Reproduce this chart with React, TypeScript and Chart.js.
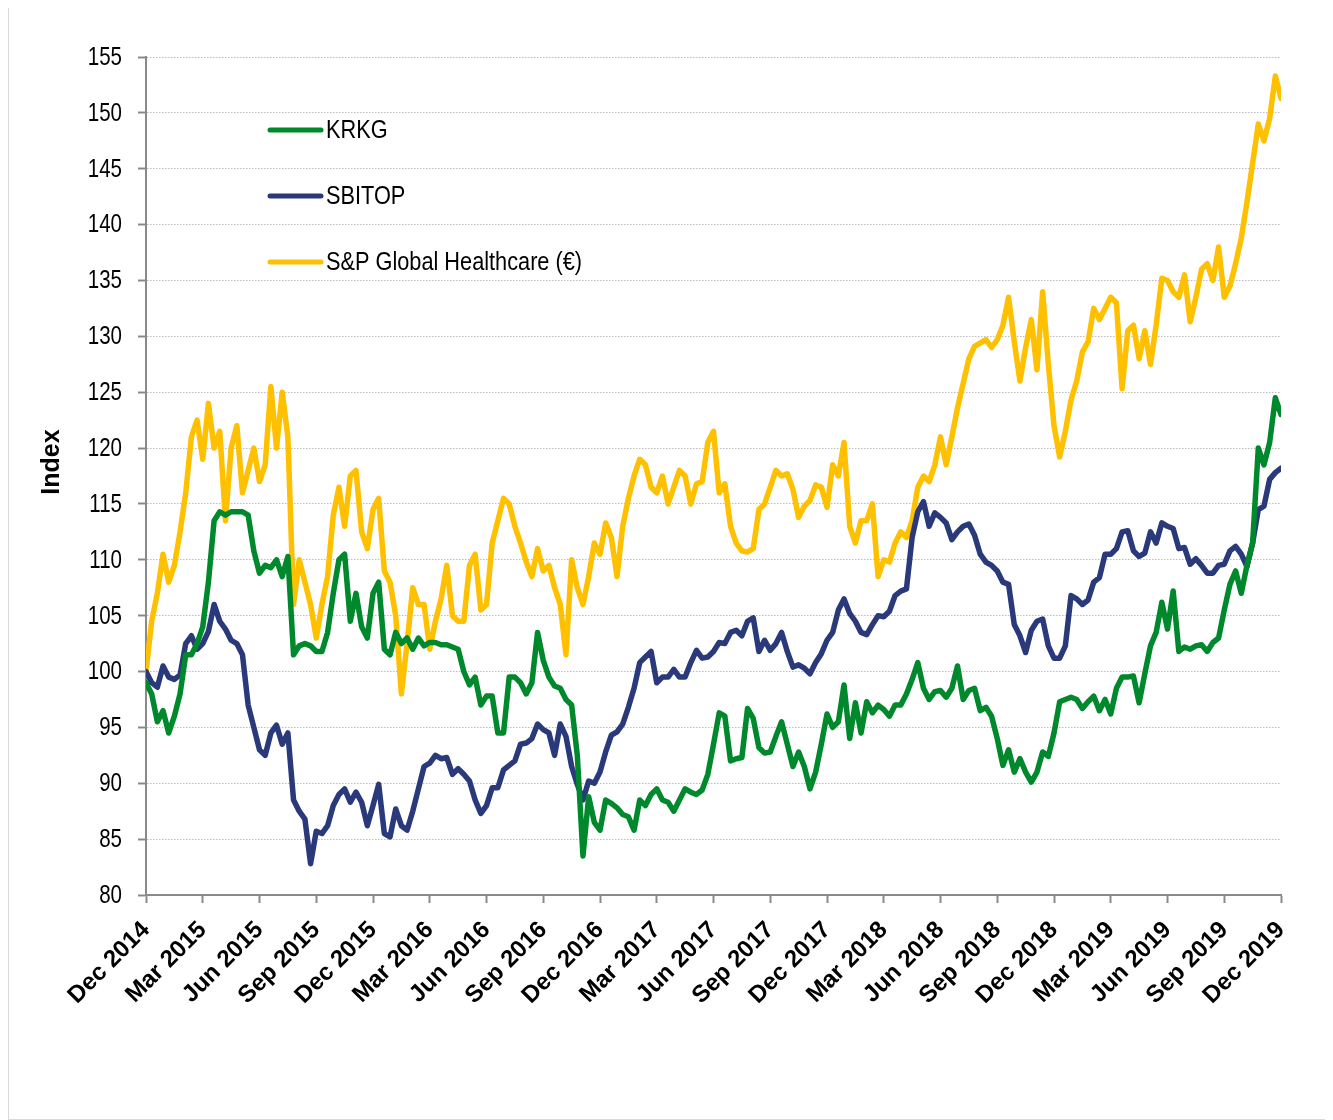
import React, { useEffect, useRef } from 'react';
import { Chart, registerables } from 'chart.js';

Chart.register(...registerables);

// Quarter tick labels (one every 10 samples)
const quarterLabels = [
  'Dec 2014', 'Mar 2015', 'Jun 2015', 'Sep 2015', 'Dec 2015', 'Mar 2016', 'Jun 2016',
  'Sep 2016', 'Dec 2016', 'Mar 2017', 'Jun 2017', 'Sep 2017', 'Dec 2017', 'Mar 2018',
  'Jun 2018', 'Sep 2018', 'Dec 2018', 'Mar 2019', 'Jun 2019', 'Sep 2019', 'Dec 2019',
];
const samplesPerQuarter = 10;

const seriesNames = ['KRKG', 'SBITOP', 'S&P Global Healthcare (€)'];
const seriesColors = ['#00892C', '#29397A', '#FFC000'];

const krkg = [
  99, 98, 95.5, 96.5, 94.5, 96, 98, 101.5, 101.5, 102.5,
  104, 108, 113.5, 114.3, 114, 114.3, 114.3, 114.3, 114, 110.8,
  108.8, 109.5, 109.3, 110, 108.5, 110.3, 101.5, 102.3, 102.5, 102.3,
  101.8, 101.8, 103.5, 107, 110, 110.5, 104.5, 107, 104, 103,
  107, 108, 102, 101.5, 103.5, 102.5, 103, 102, 103, 102.3,
  102.6, 102.6, 102.4, 102.4, 102.2, 102, 100, 98.8, 99.5, 97,
  97.8, 97.8, 94.5, 94.5, 99.5, 99.5, 99, 98, 99, 103.5,
  101, 99.5, 98.7, 98.5, 97.5, 97, 92.5, 83.5, 88.8, 86.5,
  85.8, 88.5, 88.2, 87.8, 87.2, 87, 85.8, 88.5, 88, 89,
  89.5, 88.5, 88.3, 87.5, 88.5, 89.5, 89.2, 89, 89.4, 90.8,
  93.5, 96.3, 96, 92, 92.2, 92.3, 96.7, 95.8, 93.2, 92.7,
  92.8, 94.2, 95.5, 93.5, 91.5, 92.8, 91.5, 89.5, 91, 93.5,
  96.2, 95, 95.5, 98.8, 94, 97.2, 94.5, 97.3, 96.3, 97,
  96.6, 96, 97, 97, 98, 99.3, 100.8, 98.5, 97.5, 98.2,
  98.3, 97.7, 98.5, 100.5, 97.5, 98.3, 98.5, 96.5, 96.8, 96,
  94, 91.6, 93, 91, 92.2, 91, 90.1, 91, 92.8, 92.4,
  94.5, 97.3, 97.5, 97.7, 97.5, 96.7, 97.3, 97.8, 96.5, 97.5,
  96.2, 98.5, 99.5, 99.5, 99.6, 97.2, 99.8, 102.3, 103.5, 106.2,
  103.8, 107.2, 101.8, 102.2, 102, 102.3, 102.4, 101.8, 102.6, 103,
  105.5, 107.8, 109, 107, 109.5, 111.5, 120, 118.5, 120.5, 124.5,
  123,
];

const sbitop = [
  100, 99, 98.6, 100.5, 99.5, 99.3, 99.7, 102.5, 103.2, 102,
  102.5, 103.6, 106, 104.5, 103.8, 102.8, 102.5, 101.5, 97, 95,
  93, 92.5, 94.5, 95.2, 93.5, 94.5, 88.5, 87.5, 86.8, 82.8,
  85.7, 85.5, 86.2, 88, 89, 89.5, 88.3, 89.2, 88.3, 86.2,
  88, 89.9, 85.5, 85.2, 87.7, 86.2, 85.8, 87.5, 89.5, 91.5,
  91.8, 92.5, 92.2, 92.3, 90.8, 91.3, 90.8, 90.2, 88.5, 87.3,
  88, 89.6, 89.6, 91.2, 91.6, 92, 93.5, 93.6, 94, 95.3,
  94.8, 94.5, 92.5, 95.3, 94.2, 91.5, 89.9, 88.5, 90.2, 90,
  91, 92.8, 94.3, 94.6, 95.3, 96.8, 98.5, 100.8, 101.3, 101.8,
  99, 99.5, 99.5, 100.2, 99.5, 99.5, 100.8, 101.9, 101.2, 101.3,
  101.8, 102.6, 102.5, 103.5, 103.7, 103.2, 104.5, 104.8, 101.8, 102.8,
  101.9, 102.5, 103.5, 101.8, 100.4, 100.6, 100.3, 99.8, 100.8, 101.6,
  102.8, 103.5, 105.5, 106.5, 105.2, 104.5, 103.5, 103.3, 104.2, 105,
  104.9, 105.4, 106.8, 107.2, 107.4, 112, 114.3, 115.2, 113, 114.2,
  113.8, 113.3, 111.8, 112.5, 113, 113.2, 112.2, 110.5, 109.8, 109.5,
  109, 108, 107.8, 104.2, 103.2, 101.7, 103.7, 104.5, 104.7, 102.3,
  101.2, 101.2, 102.3, 106.8, 106.5, 106, 106.4, 108, 108.4, 110.5,
  110.5, 111, 112.5, 112.6, 110.8, 110.3, 110.6, 112.5, 111.5, 113.3,
  113, 112.8, 111, 111.1, 109.6, 110.1, 109.5, 108.8, 108.8, 109.5,
  109.6, 110.8, 111.2, 110.5, 109.4, 111.5, 114.5, 114.8, 117.2, 117.8,
  118.2,
];

const spHealthcare = [
  100, 104.5, 107, 110.5, 108, 109.5, 112.5, 116, 121, 122.5,
  119, 124, 120, 121.5, 113.5, 120, 122, 116, 118, 120,
  117, 118.5, 125.5, 120, 125, 121, 106, 110, 108, 106,
  103, 106, 108.5, 114, 116.5, 113, 117.5, 118, 112.5, 111,
  114.5, 115.5, 109, 108, 105, 98, 102.5, 107.5, 106, 106,
  102, 104.5, 106.5, 109.5, 105, 104.5, 104.5, 109.5, 110.5, 105.5,
  106, 111.5, 113.5, 115.5, 115, 113, 111.5, 109.8, 108.5, 111,
  109, 109.5, 107.5, 106, 101.5, 110, 107.5, 106, 108.5, 111.5,
  110.5, 113.3, 112, 108.5, 113, 115.5, 117.5, 119, 118.5, 116.5,
  116, 117.5, 115, 116.5, 118, 117.5, 115, 116.8, 117, 120.5,
  121.5, 116, 116.8, 113, 111.5, 110.8, 110.7, 111, 114.5, 115,
  116.5, 118, 117.5, 117.7, 116.3, 113.8, 114.8, 115.3, 116.7, 116.5,
  114.7, 118.5, 117.5, 120.5, 113, 111.5, 113.5, 113.5, 115, 108.5,
  110, 109.8, 111.5, 112.5, 112, 113.5, 116.5, 117.5, 117, 118.5,
  121, 118.5, 121, 123.6, 125.8, 128, 129.1, 129.4, 129.7, 129,
  129.7, 131, 133.5, 129.5, 126, 129, 131.5, 127, 134, 127.5,
  122, 119.2, 121.5, 124.3, 126, 128.6, 129.5, 132.5, 131.5, 132.5,
  133.5, 133, 125.3, 130.5, 131, 128, 130.5, 127.5, 131, 135.2,
  135, 134, 133.5, 135.5, 131.3, 133.5, 136, 136.5, 135, 138,
  133.5, 134.5, 136.5, 138.8, 142, 145.5, 149, 147.5, 149.5, 153.3,
  151.3,
];

const yMin = 80;
const yMax = 155;
const yStep = 5;
const yTitle = 'Index';

const AXIS_GREY = '#8A8A8A';
const SANS = '"Liberation Sans", Arial, sans-serif';
const NARROW_SCALE = 0.82; // emulate Arial Narrow by condensing Liberation Sans

function drawNarrowText(ctx: CanvasRenderingContext2D, text: string, x: number, y: number, align: 'left' | 'right') {
  ctx.save();
  ctx.translate(x, y);
  ctx.scale(NARROW_SCALE, 1);
  ctx.textAlign = align;
  ctx.fillText(text, 0, 0);
  ctx.restore();
}

const overlayPlugin = {
  id: 'overlay',
  afterDraw(chart: any) {
    const { ctx, chartArea } = chart;
    ctx.save();
    // y tick labels (condensed)
    const yScale = chart.scales.y;
    ctx.fillStyle = '#000';
    ctx.font = `25px ${SANS}`;
    ctx.textBaseline = 'middle';
    yScale.ticks.forEach((t: any) => {
      const py = yScale.getPixelForValue(t.value);
      drawNarrowText(ctx, String(t.value), chartArea.left - 24, py + 1, 'right');
    });
    // legend
    chart.data.datasets.forEach((ds: any, k: number) => {
      const y = chartArea.top + 73 + k * 66;
      ctx.strokeStyle = ds.borderColor;
      ctx.lineWidth = 5;
      ctx.lineCap = 'round';
      ctx.beginPath();
      ctx.moveTo(chartArea.left + 124, y);
      ctx.lineTo(chartArea.left + 175, y);
      ctx.stroke();
      ctx.fillStyle = '#000';
      ctx.font = `26.5px ${SANS}`;
      ctx.textBaseline = 'middle';
      drawNarrowText(ctx, ds.label, chartArea.left + 180, y + 1, 'left');
    });
    // y axis title
    ctx.translate(43, 454);
    ctx.rotate(-Math.PI / 2);
    ctx.font = `bold 25px ${SANS}`;
    ctx.textAlign = 'center';
    ctx.textBaseline = 'middle';
    ctx.fillStyle = '#000';
    ctx.fillText(yTitle, 0, 0);
    ctx.restore();
  },
};

export default function App() {
  const canvasRef = useRef<HTMLCanvasElement | null>(null);

  useEffect(() => {
    if (!canvasRef.current) return;
    const series = [krkg, sbitop, spHealthcare];
    const chart = new Chart(canvasRef.current, {
      type: 'line',
      data: {
        labels: krkg.map((_, i) => i),
        datasets: series.map((values, k) => ({
          label: seriesNames[k],
          data: values,
          borderColor: seriesColors[k],
          backgroundColor: seriesColors[k],
          borderWidth: 5.5,
          pointRadius: 0,
          tension: 0,
          borderJoinStyle: 'round' as const,
          borderCapStyle: 'round' as const,
          fill: false,
        })),
      },
      options: {
        animation: false,
        responsive: false,
        maintainAspectRatio: false,
        layout: { padding: { top: 49, right: 50, left: 0, bottom: 0 } },
        plugins: {
          legend: { display: false },
          tooltip: { enabled: false },
        },
        scales: {
          x: {
            type: 'linear',
            min: 0,
            max: (quarterLabels.length - 1) * samplesPerQuarter,
            afterFit: (scale: any) => {
              scale.height = 224;
              scale.paddingLeft = 0;
              scale.paddingRight = 0;
            },
            ticks: {
              stepSize: samplesPerQuarter,
              autoSkip: false,
              maxRotation: 45,
              minRotation: 45,
              padding: 13,
              color: '#000',
              font: { family: SANS, size: 24, weight: 'bold' },
              callback: (v: any) => quarterLabels[Math.round(Number(v) / samplesPerQuarter)] ?? '',
            },
            grid: {
              drawOnChartArea: false,
              drawTicks: true,
              tickLength: 8,
              tickColor: AXIS_GREY,
              tickWidth: 2,
            },
            border: { display: true, color: AXIS_GREY, width: 2 },
          },
          y: {
            min: yMin,
            max: yMax,
            afterFit: (scale: any) => {
              scale.width = 137;
              scale.paddingTop = 0;
              scale.paddingBottom = 0;
            },
            ticks: {
              stepSize: yStep,
              padding: 17,
              color: 'rgba(0,0,0,0)',
              font: { family: SANS, size: 25 },
            },
            grid: {
              color: '#BDBDBD',
              lineWidth: 1,
              drawTicks: true,
              tickLength: 8,
              tickColor: AXIS_GREY,
              tickWidth: 2,
              tickBorderDash: [],
            },
            border: { display: true, color: AXIS_GREY, width: 2, dash: [1.5, 1.5] },
          },
        },
      },
      plugins: [overlayPlugin],
    } as any);
    return () => chart.destroy();
  }, []);

  return (
    <div
      style={{
        marginTop: -1,
        width: 1324,
        height: 1113,
        boxSizing: 'border-box',
        border: '1px solid #D9D9D9',
        background: '#fff',
      }}
    >
      <canvas ref={canvasRef} width={1322} height={1111} style={{ display: 'block' }} />
    </div>
  );
}
